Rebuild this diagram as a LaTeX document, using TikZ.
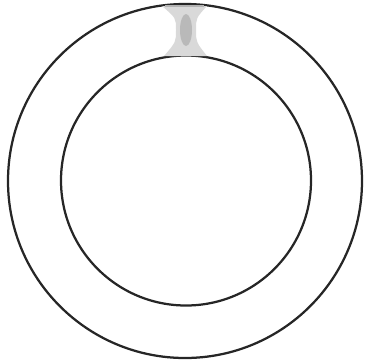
\documentclass[tikz,border=0pt]{standalone}
\usetikzlibrary{calc}
\tikzset{
  ring/.style={draw=black!85, line width=3.2pt},
  neck/.style={fill=gray!30, draw=none}
}
\begin{document}
\begin{tikzpicture}[x=0.05cm, y=-0.05cm]
  \useasboundingbox (0,0) rectangle (369,359);
  % the two rings
  \coordinate (mid) at (185,181);
  \draw[ring] (mid) circle[radius=177];
  \draw[ring] (186,180.5) circle[radius=125];
  % small neck between the rings at the top
  \fill[neck] (162,6) -- (207,6) .. controls (196,18) .. (196,30)
    .. controls (196,42) .. (207,56) -- (164,56)
    .. controls (176,42) .. (176,30) .. controls (176,18) .. cycle;
  \fill[gray!55] (186,30) ellipse[x radius=6, y radius=16];
  \draw[gray!60, line width=2pt] (165,6) -- (204,6);
\end{tikzpicture}
\end{document}
